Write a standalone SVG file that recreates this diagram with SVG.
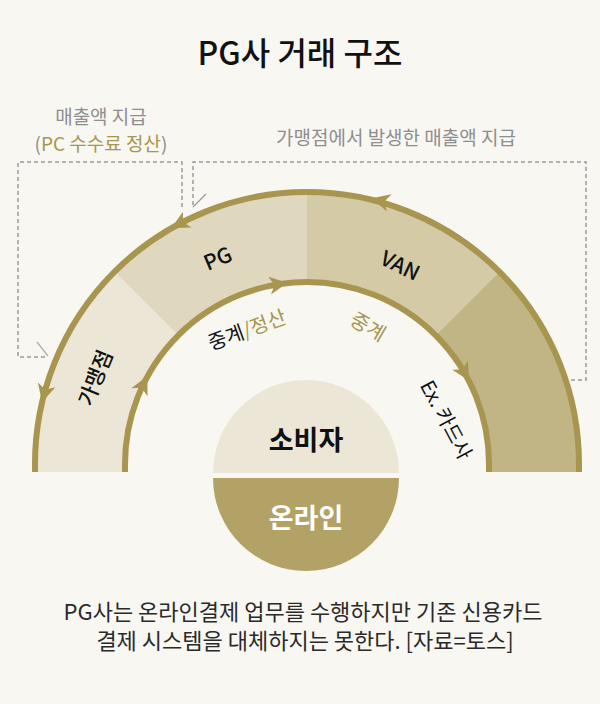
<svg xmlns="http://www.w3.org/2000/svg" width="600" height="704" viewBox="0 0 600 704">
  <defs>
    <style>
      text { font-family: "Noto Sans CJK KR", "Noto Sans", sans-serif; }
      .title { font-size: 32px; font-weight: 500; fill: #111; text-anchor: middle; }
      .note { font-size: 19px; fill: #8e8e8e; text-anchor: middle; }
      .band { font-size: 21px; font-weight: 500; fill: #111; text-anchor: middle; }
      .flow { font-size: 20px; fill: #111; text-anchor: middle; }
      .center { font-size: 27px; font-weight: 700; text-anchor: middle; }
      .caption { font-size: 22px; fill: #2a2a2a; text-anchor: middle; }
      .arc { fill: none; stroke: #a8954f; stroke-width: 6; }
      .dash { fill: none; stroke: #9a9a9a; stroke-width: 1.5; stroke-dasharray: 4 3; }
      .tick { stroke: #9a9a9a; stroke-width: 1.2; }
      text.gold, tspan.gold { fill: #a8954f; }
    </style>
    <path id="ah" d="M9,0 L-9,-9 L-4,0 L-9,9 Z" fill="#a8954f"/>
  </defs>

  <rect width="600" height="704" fill="#f8f7f2"/>

  <text class="title" x="300" y="65">PG사 거래 구조</text>

  <g id="labels-top">
    <text class="note" x="101" y="124">매출액 지급</text>
    <text class="note" x="101" y="151">(<tspan class="gold">PC 수수료 정산</tspan>)</text>
    <text class="note" x="396" y="145">가맹점에서 발생한 매출액 지급</text>
  </g>

  <g id="node-merchant">
    <path d="M35,472 L35,464 A272,272 0 0 1 114.7,271.7 L178.3,335.3 A182,182 0 0 0 125,464 L125,472 Z" fill="#ece6d7"/>
    <text class="band" transform="translate(96,378) rotate(-68)" y="7">가맹점</text>
  </g>
  <g id="node-pg">
    <path d="M114.7,271.7 A272,272 0 0 1 307,192 L307,282 A182,182 0 0 0 178.3,335.3 Z" fill="#dfd7be"/>
    <text class="band" transform="translate(218,259) rotate(-23)" y="7">PG</text>
  </g>
  <g id="node-van">
    <path d="M307,192 A272,272 0 0 1 499.3,271.7 L435.7,335.3 A182,182 0 0 0 307,282 Z" fill="#d4caa6"/>
    <text class="band" transform="translate(400,266) rotate(26)" y="7">VAN</text>
  </g>
  <g id="node-card">
    <path d="M499.3,271.7 A272,272 0 0 1 579,464 L579,472 L489,472 L489,464 A182,182 0 0 0 435.7,335.3 Z" fill="#c2b585"/>
  </g>

  <g id="connectors">
    <path class="arc" d="M35,472 L35,464 A272,272 0 0 1 579,464 L579,472"/>
    <path class="arc" d="M125,472 L125,464 A182,182 0 0 1 489,464 L489,472"/>
    <use href="#ah" transform="translate(179.3,223.8) rotate(152)"/>
    <use href="#ah" transform="translate(380.5,200.5) rotate(195)"/>
    <use href="#ah" transform="translate(44.3,393.6) rotate(105)"/>
    <use href="#ah" transform="translate(278.5,284.2) rotate(-9)"/>
    <use href="#ah" transform="translate(143.4,384.2) rotate(-64)"/>
    <use href="#ah" transform="translate(464.6,373) rotate(60)"/>
    <path class="dash" d="M182,207 V162 H18 V357 H47"/>
    <line class="tick" x1="37" y1="342" x2="48" y2="356"/>
    <path class="dash" d="M193,205 V162 H586 V380 H570"/>
    <line class="tick" x1="193" y1="207" x2="206" y2="194"/>
  </g>

  <g id="flow-labels">
    <text class="flow" transform="translate(247,330) rotate(-20)" y="7">중계<tspan class="gold">/정산</tspan></text>
    <text class="flow gold" transform="translate(368,327) rotate(30)" y="7">중계</text>
    <text class="flow" transform="translate(446,420) rotate(62)" y="7">Ex. 카드사</text>
  </g>

  <g id="node-consumer">
    <path d="M213,473 A93,93 0 0 1 399,473 Z" fill="#ece6d7"/>
    <text class="center" x="306" y="450" fill="#111">소비자</text>
  </g>
  <g id="node-online">
    <path d="M213,478 A93,93 0 0 0 399,478 Z" fill="#b3a265"/>
    <text class="center" x="306" y="528" fill="#ffffff">온라인</text>
  </g>

  <g id="caption">
    <text class="caption" x="303" y="620">PG사는 온라인결제 업무를 수행하지만 기존 신용카드</text>
    <text class="caption" x="305" y="649">결제 시스템을 대체하지는 못한다. [자료=토스]</text>
  </g>
</svg>
